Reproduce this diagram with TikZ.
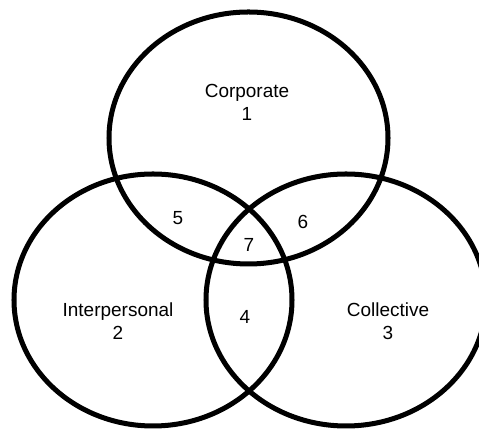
\documentclass[tikz,border=0pt]{standalone}
\usepackage{fontspec}
\setmainfont{Liberation Sans}
\tikzset{
  set/.style={line width=2.85pt},
  setlabel/.style={align=center,inner sep=0pt,font=\fontsize{10.8}{13.3}\selectfont}
}
\begin{document}
\begin{tikzpicture}[scale=1.0]
        \clip (0,0) rectangle (9.58,8.58);
        \draw[set] (4.97,5.82) ellipse [x radius=2.79, y radius=2.52];
        \draw[set] (3.06,2.58) ellipse [x radius=2.78, y radius=2.52];
        \draw[set] (6.92,2.58) ellipse [x radius=2.80, y radius=2.52];
        \node[setlabel] (corporate) at (4.94,6.53) {Corporate\\1};
        \node[setlabel] (interpersonal) at (2.36,2.16) {Interpersonal\\2};
        \node[setlabel] (collective) at (7.76,2.16) {Collective\\3};
        \node[setlabel] (four) at (4.90,2.25) {4};
        \node[setlabel] (five) at (3.56,4.22) {5};
        \node[setlabel] (six) at (6.06,4.14) {6};
        \node[setlabel] (seven) at (4.98,3.68) {7};
    \end{tikzpicture}
\end{document}
